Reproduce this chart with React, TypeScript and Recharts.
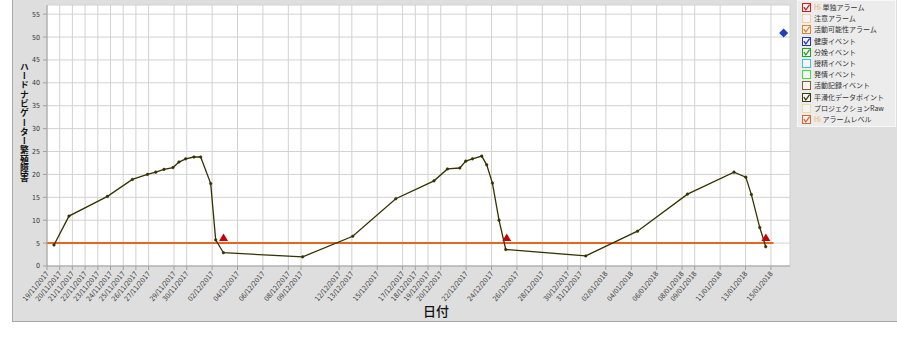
import React from 'react';
import { ComposedChart, Line, Scatter, XAxis, YAxis, CartesianGrid } from 'recharts';

// Days since 19/11/2017 (x) and smoothed reproduction-disorder values (y)
const smoothDays = [0.55, 1.73, 4.76, 6.72, 7.91, 8.56, 9.21, 9.92, 10.39, 10.92, 11.57, 12.1, 12.89, 13.28, 13.89, 20.13, 24.07, 27.46, 30.47, 31.53, 32.5, 32.97, 33.5, 34.23, 34.62, 35.07, 35.59, 36.12, 42.42, 46.49, 50.43, 54.09, 55.02, 55.46, 56.12, 56.59];
const smoothValues = [4.6, 10.9, 15.2, 18.9, 20.0, 20.5, 21.1, 21.5, 22.7, 23.4, 23.8, 23.8, 18.0, 5.7, 2.9, 2.0, 6.5, 14.7, 18.6, 21.2, 21.4, 22.9, 23.4, 24.0, 22.1, 18.1, 10.0, 3.6, 2.2, 7.6, 15.7, 20.5, 19.4, 15.6, 8.4, 4.2];

const alarmDays = [13.9, 36.2, 56.6];
const alarmValues = [6.2, 6.2, 6.2];

const levelDays = [0, 57.2];
const levelValues = [5, 5];

const eventDays = [58.0];
const eventValues = [50.9];

const tickDays = [0, 1, 2, 3, 4, 5, 6, 7, 8, 10, 11, 13, 15, 17, 19, 20, 23, 24, 26, 28, 29, 30, 31, 33, 35, 37, 39, 41, 42, 44, 46, 48, 50, 51, 53, 55, 57];
const tickLabels = ['19/11/2017', '20/11/2017', '21/11/2017', '22/11/2017', '23/11/2017', '24/11/2017', '25/11/2017', '26/11/2017', '27/11/2017', '29/11/2017', '30/11/2017', '02/12/2017', '04/12/2017', '06/12/2017', '08/12/2017', '09/12/2017', '12/12/2017', '13/12/2017', '15/12/2017', '17/12/2017', '18/12/2017', '19/12/2017', '20/12/2017', '22/12/2017', '24/12/2017', '26/12/2017', '28/12/2017', '30/12/2017', '31/12/2017', '02/01/2018', '04/01/2018', '06/01/2018', '08/01/2018', '09/01/2018', '11/01/2018', '13/01/2018', '15/01/2018'];
const yTicks = [0, 5, 10, 15, 20, 25, 30, 35, 40, 45, 50, 55];

const legendPrefixes = ['Hi ', '', '', '', '', '', '', '', '', '', 'Hi '];
const legendNames = ['単独アラーム', '注意アラーム', '活動可能性アラーム', '健康イベント', '分娩イベント', '授精イベント', '発情イベント', '活動記録イベント', '平滑化データポイント', 'プロジェクションRaw', 'アラームレベル'];
const legendColors = ['#c81e1e', '#f3cfa0', '#e0832a', '#2236b8', '#24a024', '#3cc0e0', '#3ee03e', '#8a5a2a', '#3a3a10', '#e6e0a0', '#e0602a'];
const legendChecked = [true, false, true, true, true, false, false, false, true, false, true];

const smoothData = smoothDays.map((x, i) => ({ x, y: smoothValues[i] }));
const alarmData = alarmDays.map((x, i) => ({ x, y: alarmValues[i] }));
const levelData = levelDays.map((x, i) => ({ x, y: levelValues[i] }));
const eventData = eventDays.map((x, i) => ({ x, y: eventValues[i] }));

const XTick = (props: any) => {
  const { x, y, payload } = props;
  const idx = tickDays.indexOf(payload.value);
  return (
    <text
      x={x}
      y={y}
      dy={3}
      textAnchor="end"
      transform={`rotate(-50, ${x}, ${y})`}
      fontSize={7}
      fill="#444"
      fontFamily="DejaVu Sans Condensed"
    >
      {tickLabels[idx]}
    </text>
  );
};

const Triangle = (props: any) => {
  const { cx, cy } = props;
  if (cx == null || cy == null) return null;
  return <polygon points={`${cx},${cy - 4} ${cx + 4.5},${cy + 3.5} ${cx - 4.5},${cy + 3.5}`} fill="#c40000" />;
};

const Diamond = (props: any) => {
  const { cx, cy } = props;
  if (cx == null || cy == null) return null;
  return <polygon points={`${cx},${cy - 4.5} ${cx + 4.5},${cy} ${cx},${cy + 4.5} ${cx - 4.5},${cy}`} fill="#1f3fbf" />;
};

const CheckBox = ({ color, checked }: { color: string; checked: boolean }) => (
  <svg width={9} height={9} style={{ display: 'block' }}>
    <rect x={0.5} y={0.5} width={8} height={8} fill="#f4f4f4" stroke={color} strokeWidth={1} />
    {checked && <polyline points="1.8,4.2 3.8,7 7.6,1.6" fill="none" stroke={color} strokeWidth={1.3} />}
  </svg>
);

export default function App() {
  return (
    <div style={{ position: 'absolute', left: 0, top: 0, width: 897, height: 337, background: '#fff', fontFamily: 'Noto Sans CJK JP, sans-serif' }}>
      <div style={{ position: 'absolute', left: 12, top: 0, width: 885, height: 321, background: '#dedede', borderLeft: '1px solid #a8a8a8', borderBottom: '1px solid #a8a8a8' }} />
      <div style={{ position: 'absolute', left: 0, top: 0 }}>
        <ComposedChart width={897} height={337} margin={{ top: 5, right: 107, bottom: 21, left: 0 }}>
          <CartesianGrid stroke="#d2d2d2" fill="#ffffff" fillOpacity={1} />
          <XAxis
            type="number"
            dataKey="x"
            domain={[0, 58.5]}
            ticks={tickDays}
            interval={0}
            allowDataOverflow
            height={50}
            tickSize={4}
            tickMargin={2}
            stroke="#a0a0a0"
            tick={<XTick />}
          />
          <YAxis
            type="number"
            dataKey="y"
            domain={[0, 57]}
            ticks={yTicks}
            interval={0}
            allowDataOverflow
            width={47}
            tickSize={4}
            tickMargin={3}
            stroke="#a0a0a0"
            tick={{ fontSize: 7, fill: '#333', fontFamily: 'DejaVu Sans Condensed' }}
          />
          <Line
            data={levelData}
            dataKey="y"
            type="linear"
            stroke="#e3671e"
            strokeWidth={2}
            dot={false}
            isAnimationActive={false}
          />
          <Line
            data={smoothData}
            dataKey="y"
            type="linear"
            stroke="#333300"
            strokeWidth={1.3}
            dot={{ r: 1.3, fill: '#333300', stroke: '#333300', strokeWidth: 0.5 }}
            isAnimationActive={false}
          />
          <Scatter data={alarmData} dataKey="y" shape={<Triangle />} isAnimationActive={false} />
          <Scatter data={eventData} dataKey="y" shape={<Diamond />} isAnimationActive={false} />
        </ComposedChart>
      </div>
      <div
        style={{
          position: 'absolute',
          left: 18,
          top: 62,
          writingMode: 'vertical-rl',
          textOrientation: 'upright',
          fontSize: 8.8,
          fontWeight: 700,
          letterSpacing: 0.5,
          color: '#111',
          lineHeight: '12px',
        }}
      >
        ハードナビゲーター繁殖障害
      </div>
      <div style={{ position: 'absolute', left: 423, top: 301, fontSize: 13, fontWeight: 500, color: '#111' }}>日付</div>
      <div
        style={{
          position: 'absolute',
          left: 797,
          top: 0,
          width: 99,
          height: 127,
          background: '#ececec',
          border: '1px solid #f8f8f8',
          boxSizing: 'border-box',
          paddingTop: 1,
        }}
      >
        {legendNames.map((name, i) => (
          <div key={name} style={{ display: 'flex', alignItems: 'center', height: 11.2, paddingLeft: 4 }}>
            <CheckBox color={legendColors[i]} checked={legendChecked[i]} />
            <span style={{ marginLeft: 3, fontSize: 7, lineHeight: '9px', color: '#333', whiteSpace: 'nowrap' }}>
              {legendPrefixes[i] && <span style={{ color: '#e8b070' }}>{legendPrefixes[i]}</span>}
              {name}
            </span>
          </div>
        ))}
      </div>
    </div>
  );
}
